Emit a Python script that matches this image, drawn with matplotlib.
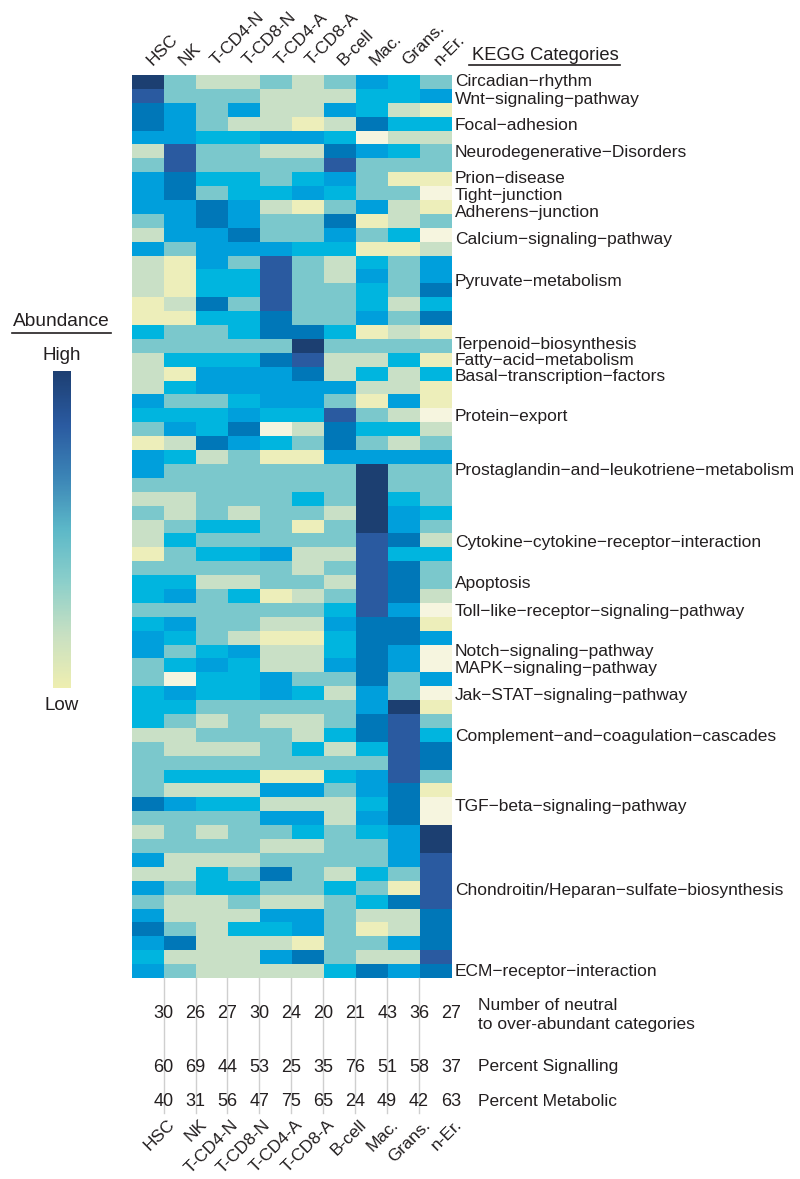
import numpy as np
import matplotlib
matplotlib.use("Agg")
import matplotlib.pyplot as plt
from matplotlib.colors import ListedColormap, LinearSegmentedColormap, Normalize
from matplotlib.cm import ScalarMappable
from matplotlib.transforms import blended_transform_factory

plt.rcParams['font.family'] = ['Liberation Sans', 'DejaVu Sans']

# cell types (columns)
cell_types = ["HSC", "NK", "T-CD4-N", "T-CD8-N", "T-CD4-A", "T-CD8-A",
              "B-cell", "Mac.", "Grans.", "n-Er."]

# abundance level per KEGG row (0 = lowest, 8 = highest), one list per cell type
hsc = [8, 7, 6, 6, 5, 2, 3, 5, 5, 5, 3, 2, 5, 2, 2, 2, 1, 1, 4, 3,
       2, 2, 2, 5, 4, 3, 1, 5, 5, 3, 2, 3, 2, 2, 1, 3, 4, 4, 3, 4,
       5, 5, 3, 3, 4, 4, 4, 2, 3, 3, 3, 3, 6, 3, 2, 3, 5, 2, 5, 3,
       5, 6, 5, 4, 5]
nk = [3, 3, 5, 5, 5, 7, 7, 6, 6, 5, 5, 5, 3, 1, 1, 1, 2, 1, 3, 3,
      4, 1, 4, 3, 4, 5, 2, 4, 3, 3, 2, 2, 3, 4, 3, 3, 4, 5, 3, 5,
      4, 3, 4, 0, 5, 4, 3, 2, 2, 3, 4, 2, 5, 3, 3, 3, 2, 2, 3, 2,
      2, 3, 6, 2, 3]
t_cd4_n = [2, 3, 3, 3, 4, 3, 3, 4, 3, 6, 6, 5, 5, 5, 4, 4, 6, 4, 3, 3,
           4, 5, 5, 3, 4, 4, 6, 2, 3, 3, 3, 3, 4, 3, 4, 3, 2, 3, 3, 3,
           3, 4, 5, 4, 4, 3, 2, 3, 2, 3, 4, 2, 4, 3, 2, 3, 2, 4, 4, 2,
           2, 2, 2, 2, 2]
t_cd8_n = [2, 3, 5, 2, 4, 3, 3, 4, 4, 5, 5, 6, 5, 3, 4, 4, 3, 4, 4, 3,
           4, 5, 5, 4, 5, 6, 5, 3, 3, 3, 3, 2, 4, 3, 4, 3, 2, 4, 3, 3,
           2, 5, 4, 4, 4, 3, 3, 3, 2, 3, 4, 2, 4, 3, 3, 3, 2, 3, 4, 3,
           2, 4, 2, 2, 2]
t_cd4_a = [3, 2, 2, 2, 5, 2, 3, 3, 4, 2, 3, 3, 5, 7, 7, 7, 7, 6, 6, 3,
           6, 5, 5, 5, 4, 0, 4, 1, 3, 3, 3, 3, 3, 3, 5, 3, 3, 1, 3, 2,
           1, 2, 2, 5, 5, 3, 2, 3, 3, 3, 1, 5, 2, 5, 3, 2, 3, 6, 3, 2,
           5, 4, 2, 5, 2]
t_cd8_a = [2, 2, 2, 1, 5, 2, 3, 4, 5, 1, 3, 3, 4, 3, 3, 3, 3, 3, 6, 8,
           7, 6, 5, 5, 4, 2, 3, 1, 3, 3, 4, 3, 1, 3, 2, 2, 3, 2, 3, 2,
           1, 2, 2, 3, 4, 3, 2, 2, 4, 3, 1, 5, 2, 5, 4, 2, 3, 3, 3, 2,
           5, 5, 1, 6, 2]
b_cell = [3, 2, 5, 2, 4, 6, 7, 5, 4, 3, 6, 5, 4, 2, 2, 3, 3, 3, 4, 3,
          2, 2, 5, 3, 7, 6, 6, 5, 3, 3, 3, 2, 3, 3, 2, 3, 2, 3, 4, 5,
          4, 4, 5, 3, 2, 3, 3, 4, 2, 3, 4, 3, 2, 2, 3, 3, 3, 2, 4, 3,
          3, 3, 3, 3, 4]
mac = [5, 4, 4, 6, 0, 5, 3, 3, 3, 5, 1, 3, 1, 4, 5, 4, 4, 5, 1, 3,
       2, 4, 2, 1, 3, 4, 3, 5, 8, 8, 8, 8, 8, 7, 7, 7, 7, 7, 7, 6,
       6, 6, 6, 6, 5, 5, 6, 6, 4, 3, 5, 5, 4, 5, 4, 3, 3, 4, 3, 4,
       2, 1, 3, 2, 6]
grans = [4, 4, 2, 4, 2, 4, 3, 1, 3, 2, 2, 4, 1, 3, 3, 3, 2, 3, 2, 3,
         4, 2, 2, 5, 2, 4, 2, 5, 3, 3, 4, 5, 5, 6, 4, 6, 6, 6, 5, 6,
         6, 5, 5, 3, 3, 8, 7, 7, 7, 7, 7, 6, 6, 6, 5, 5, 5, 3, 1, 6,
         2, 2, 5, 2, 5]
n_er = [3, 5, 1, 4, 2, 3, 3, 1, 0, 1, 3, 0, 2, 5, 5, 6, 4, 6, 1, 3,
        1, 4, 1, 1, 0, 2, 3, 5, 3, 3, 3, 4, 3, 2, 4, 3, 3, 2, 0, 1,
        5, 0, 0, 5, 0, 1, 3, 4, 6, 6, 3, 1, 0, 0, 8, 8, 7, 7, 7, 7,
        6, 6, 6, 7, 6]

kegg_labels = ["Circadian−rhythm", "Wnt−signaling−pathway", "Focal−adhesion",
               "Neurodegenerative−Disorders", "Prion−disease", "Tight−junction",
               "Adherens−junction", "Calcium−signaling−pathway", "Pyruvate−metabolism",
               "Terpenoid−biosynthesis", "Fatty−acid−metabolism",
               "Basal−transcription−factors", "Protein−export",
               "Prostaglandin−and−leukotriene−metabolism",
               "Cytokine−cytokine−receptor−interaction", "Apoptosis",
               "Toll−like−receptor−signaling−pathway", "Notch−signaling−pathway",
               "MAPK−signaling−pathway", "Jak−STAT−signaling−pathway",
               "Complement−and−coagulation−cascades", "TGF−beta−signaling−pathway",
               "Chondroitin/Heparan−sulfate−biosynthesis", "ECM−receptor−interaction"]
# row where each label sits
label_rows = [0.0, 1.23, 3.1, 5.09, 6.94, 8.19, 9.39, 11.33, 14.38, 18.89, 20.02,
              21.22, 24.1, 27.99, 33.14, 36.1, 38.14, 41.02, 42.22, 44.14, 47.14,
              52.18, 58.17, 64.05]

n_categories = [30, 26, 27, 30, 24, 20, 21, 43, 36, 27]
pct_signalling = [60, 69, 44, 53, 25, 35, 76, 51, 58, 37]
pct_metabolic = [40, 31, 56, 47, 75, 65, 24, 49, 42, 63]

level_colors = ["#f6f5df", "#edeeba", "#c9e0c6", "#7bc8cc", "#00b5df",
                "#009fdc", "#0077b8", "#2a5aa0", "#1c3f71"]
cmap = ListedColormap(level_colors)
bar_cmap = LinearSegmentedColormap.from_list(
    "abund", ["#eeeeb0", "#c8e0c2", "#8ccfca", "#5cb8c8", "#3b84b6", "#2a5aa0", "#1d3f72"])

W, H = 800, 1179
fig = plt.figure(figsize=(W / 100, H / 100), dpi=100)

def fx(px):
    return px / W

def fy(py):
    return 1 - py / H

top, bot, left, right = 75, 978, 131.7, 451
ax = fig.add_axes([fx(left), fy(bot), fx(right) - fx(left), fy(top) - fy(bot)])
data = np.array([hsc, nk, t_cd4_n, t_cd8_n, t_cd4_a, t_cd8_a, b_cell, mac, grans, n_er]).T
ax.imshow(data, cmap=cmap, vmin=-0.5, vmax=8.5, aspect='auto', interpolation='nearest')
ax.set_axis_off()

nrows = data.shape[0]
ncols = data.shape[1]
trans = blended_transform_factory(ax.transData, fig.transFigure)

fs = 12.5
# column labels top and bottom
for j, name in enumerate(cell_types):
    ax.text(j + 0.15, fy(66), name, transform=trans, rotation=45, rotation_mode='anchor',
            ha='left', va='baseline', fontsize=fs, color='#231f20')
    ax.text(j + 0.6, fy(1117), name, transform=trans, rotation=45, rotation_mode='anchor',
            ha='right', va='top', fontsize=fs, color='#231f20')
    ax.text(j + 0.5, fy(1013), str(n_categories[j]), transform=trans,
            ha='center', va='center', fontsize=fs + 0.5, color='#231f20')
    ax.text(j + 0.5, fy(1067), str(pct_signalling[j]), transform=trans,
            ha='center', va='center', fontsize=fs + 0.5, color='#231f20')
    ax.text(j + 0.5, fy(1102), str(pct_metabolic[j]), transform=trans,
            ha='center', va='center', fontsize=fs + 0.5, color='#231f20')

# separators under the heatmap
for j in range(1, ncols):
    ax.plot([j - 0.5, j - 0.5], [fy(978), fy(1113)], transform=trans,
            color='#cfcfcf', lw=1.0, clip_on=False)

# KEGG labels
for lab, r in zip(kegg_labels, label_rows):
    ax.text(ncols - 0.5 + 0.12, r, lab, ha='left', va='center', fontsize=fs,
            color='#231f20', clip_on=False)

fig.text(fx(545), fy(55), "KEGG Categories", ha='center', va='center', fontsize=13.2,
         color='#231f20')
fig.add_artist(plt.Line2D([fx(469), fx(620)], [fy(64.5), fy(64.5)], color='#231f20', lw=1.2))

# row summary texts
fig.text(fx(478), fy(1015), "Number of neutral\nto over-abundant categories", ha='left',
         va='center', fontsize=fs, color='#231f20', linespacing=1.35)
fig.text(fx(478), fy(1066), "Percent Signalling", ha='left', va='center', fontsize=fs,
         color='#231f20')
fig.text(fx(478), fy(1101), "Percent Metabolic", ha='left', va='center', fontsize=fs,
         color='#231f20')

# colour scale
cax = fig.add_axes([fx(53), fy(688), fx(71) - fx(53), fy(371) - fy(688)])
cb = fig.colorbar(ScalarMappable(norm=Normalize(0, 1), cmap=bar_cmap), cax=cax)
cb.outline.set_visible(False)
cb.set_ticks([])
fig.text(fx(61), fy(322), "Abundance", ha='center', va='center', fontsize=13.8,
         color='#231f20')
fig.add_artist(plt.Line2D([fx(12), fx(111)], [fy(333), fy(333)], color='#231f20', lw=1.2))
fig.text(fx(62), fy(355), "High", ha='center', va='center', fontsize=13.5, color='#231f20')
fig.text(fx(62), fy(705), "Low", ha='center', va='center', fontsize=13.5, color='#231f20')

fig.savefig("out.png", dpi=100)
